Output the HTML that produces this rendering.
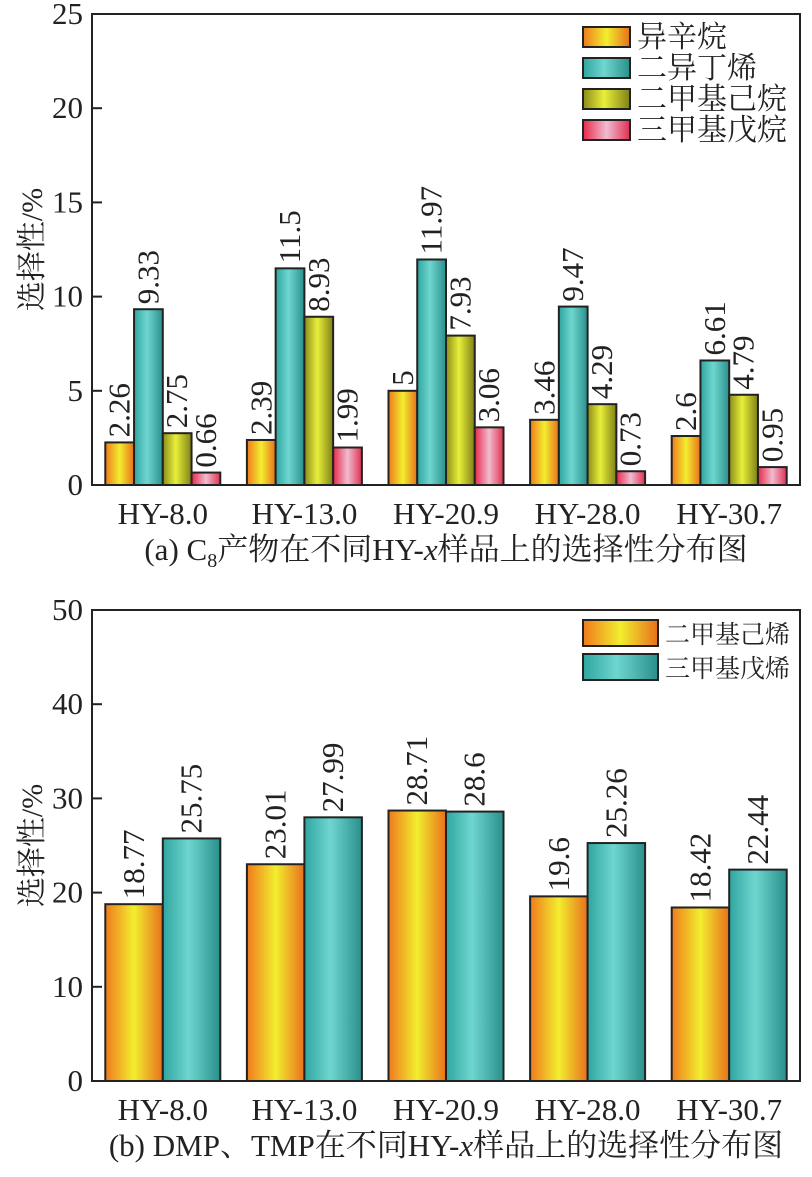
<!DOCTYPE html>
<html><head><meta charset="utf-8"><style>
body{margin:0;background:#fff}
svg text{font-family:"Liberation Serif","Noto Serif CJK SC",serif;fill:#222}
</style></head><body>
<svg id="svg" width="812" height="1172" xmlns="http://www.w3.org/2000/svg">
<defs>
<linearGradient id="gOr" x1="0" x2="1"><stop offset="0" stop-color="#f07a1e"/><stop offset="0.5" stop-color="#f2ee2e"/><stop offset="1" stop-color="#e8701c"/></linearGradient>
<linearGradient id="gTe" x1="0" x2="1"><stop offset="0" stop-color="#2fa5a0"/><stop offset="0.45" stop-color="#6fd6cf"/><stop offset="1" stop-color="#2a8f8b"/></linearGradient>
<linearGradient id="gOl" x1="0" x2="1"><stop offset="0" stop-color="#8b8c1a"/><stop offset="0.45" stop-color="#e8ef3a"/><stop offset="1" stop-color="#7f8016"/></linearGradient>
<linearGradient id="gPi" x1="0" x2="1"><stop offset="0" stop-color="#e8284a"/><stop offset="0.5" stop-color="#f0bcd0"/><stop offset="1" stop-color="#e03050"/></linearGradient>
</defs>
</svg>
<script>
const categories=["HY-8.0","HY-13.0","HY-20.9","HY-28.0","HY-30.7"];
const seriesA1=[2.26,2.39,5,3.46,2.6];
const seriesA2=[9.33,11.5,11.97,9.47,6.61];
const seriesA3=[2.75,8.93,7.93,4.29,4.79];
const seriesA4=[0.66,1.99,3.06,0.73,0.95];
const labelsA1=["2.26","2.39","5","3.46","2.6"];
const labelsA2=["9.33","11.5","11.97","9.47","6.61"];
const labelsA3=["2.75","8.93","7.93","4.29","4.79"];
const labelsA4=["0.66","1.99","3.06","0.73","0.95"];
const namesA=["异辛烷","二异丁烯","二甲基己烷","三甲基戊烷"];
const ticksA=[0,5,10,15,20,25];
const seriesB1=[18.77,23.01,28.71,19.6,18.42];
const seriesB2=[25.75,27.99,28.6,25.26,22.44];
const labelsB1=["18.77","23.01","28.71","19.6","18.42"];
const labelsB2=["25.75","27.99","28.6","25.26","22.44"];
const namesB=["二甲基己烯","三甲基戊烯"];
const ticksB=[0,10,20,30,40,50];

const svg=document.getElementById('svg');
const NS="http://www.w3.org/2000/svg";
function mk(tag,attrs,parent){const e=document.createElementNS(NS,tag);for(const k in attrs)e.setAttribute(k,attrs[k]);(parent||svg).appendChild(e);return e;}

function chart(cfg){
  const L=92,R=800,T=cfg.top,B=cfg.bottom;
  const y=v=>B-(v/cfg.max)*(B-T);
  const grpW=(R-L)/categories.length;
  const g=mk('g',{});
  
  
  const nS=cfg.series.length, bw=115/nS;
  cfg.series.forEach((s,si)=>{
    s.forEach((v,i)=>{
      const cx=L+grpW*i+grpW/2, x=cx-57.5+si*bw;
      const r=mk('rect',{x:x,y:y(v),width:bw,height:B-y(v),fill:cfg.fills[si],stroke:'#222','stroke-width':2},g);
      
      
      const tx=x+bw/2+10, ty=y(v)-5;
      const t=mk('text',{x:tx,y:ty,'font-size':31,transform:`rotate(-90 ${tx} ${ty})`},g);
      t.textContent=cfg.labels[si][i];
      
      
    });
  });
  const fr=mk('rect',{x:L,y:T,width:R-L,height:B-T,fill:'none',stroke:'#222','stroke-width':2},g);
  
  
  cfg.ticks.forEach(v=>{
    mk('line',{x1:L,x2:L+10,y1:y(v),y2:y(v),stroke:'#222','stroke-width':2},g);
    const t=mk('text',{x:L-9,y:y(v)+10,'font-size':31,'text-anchor':'end'},g);
    t.textContent=v;
    
    
  });
  categories.forEach((c,i)=>{
    const t=mk('text',{x:L+grpW*i+grpW/2,y:B+39,'font-size':31,'text-anchor':'middle'},g);
    t.textContent=c;
    
    
  });
  const ym=(T+B)/2, yx=42;
  const yt=mk('text',{x:yx,y:ym,'font-size':30,'text-anchor':'middle',transform:`rotate(-90 ${yx} ${ym})`},g);
  yt.textContent='选择性/%';
  
  
  const cap=mk('text',{x:446,y:B+75,'font-size':31,'text-anchor':'middle'},g);
  cap.innerHTML=cfg.caption;
  
  
  cfg.names.forEach((n,k)=>{
    const ry=cfg.legY+k*cfg.legGap;
    const sw=mk('rect',{x:583,y:ry-cfg.sh/2,width:cfg.sw,height:cfg.sh,fill:cfg.fills[k],stroke:'#222','stroke-width':2},g);
    
    
    const t=mk('text',{x:583+cfg.sw+7,y:ry+10,'font-size':cfg.lf},g);
    t.textContent=n;
    
    
  });
}
chart({name:'chart-a',top:14,bottom:485,max:25,series:[seriesA1,seriesA2,seriesA3,seriesA4],labels:[labelsA1,labelsA2,labelsA3,labelsA4],fills:['url(#gOr)','url(#gTe)','url(#gOl)','url(#gPi)'],ticks:ticksA,names:namesA,legY:37,legGap:31,sw:47,sh:20,lf:30,caption:'(a) C<tspan font-size="20" dy="7">8</tspan><tspan dy="-7">产物在不同HY-</tspan><tspan font-style="italic">x</tspan>样品上的选择性分布图'});
chart({name:'chart-b',top:610,bottom:1081,max:50,series:[seriesB1,seriesB2],labels:[labelsB1,labelsB2],fills:['url(#gOr)','url(#gTe)'],ticks:ticksB,names:namesB,legY:633,legGap:34,sw:75,sh:26,lf:25,caption:'(b) DMP、TMP在不同HY-<tspan font-style="italic">x</tspan>样品上的选择性分布图'});
</script>
</body></html>
